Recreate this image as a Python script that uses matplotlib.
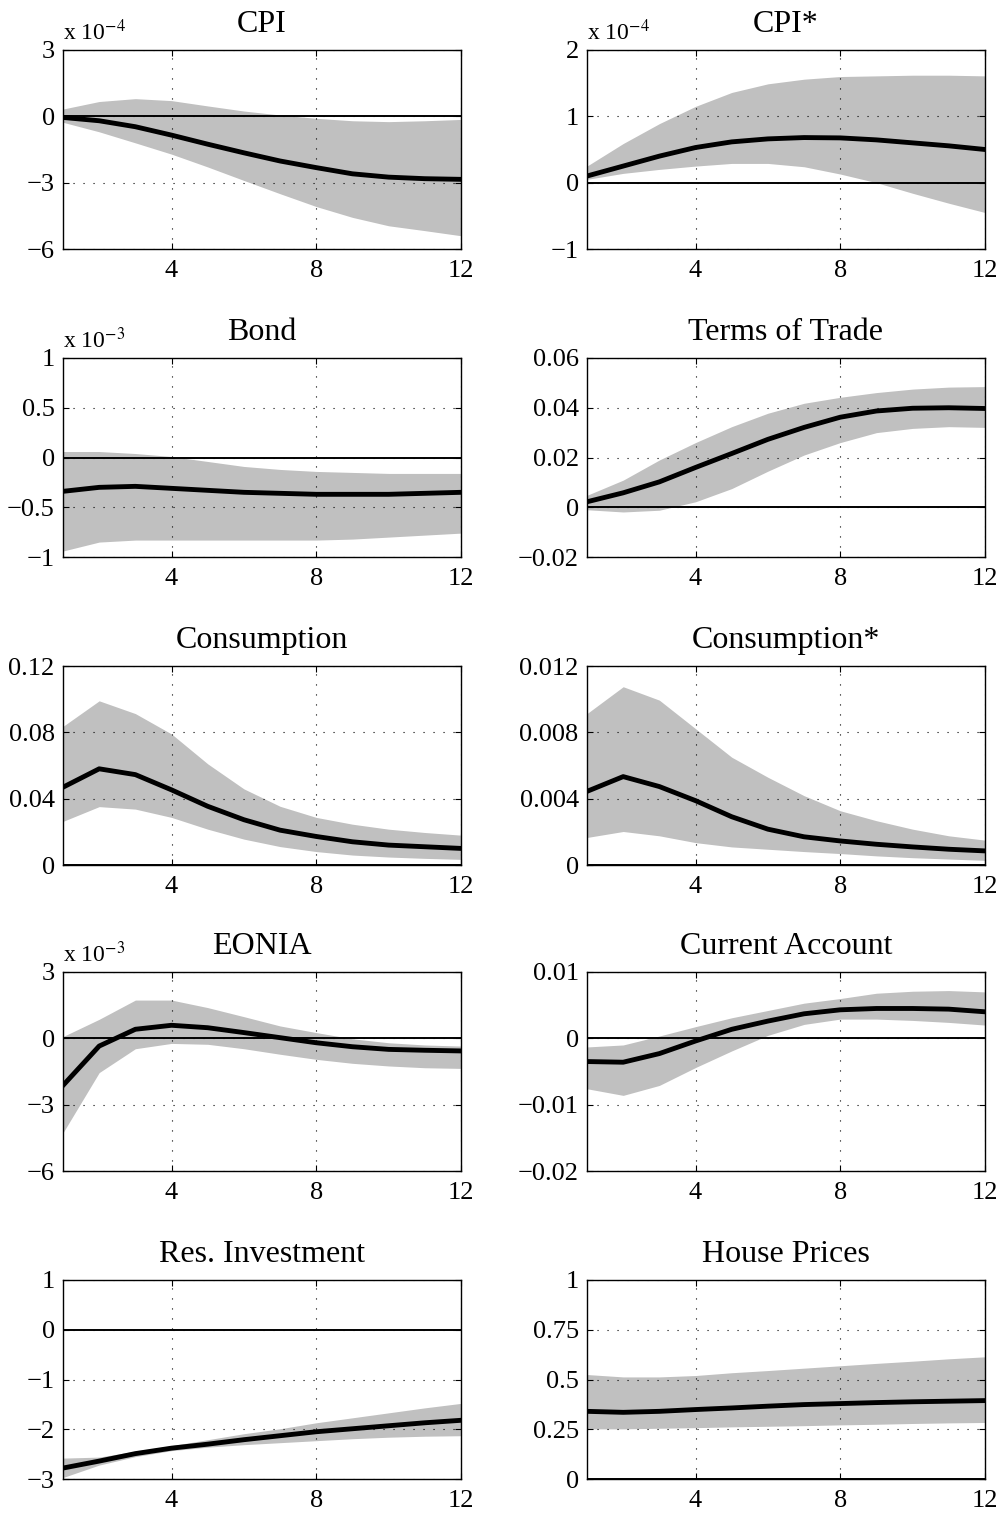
import matplotlib
matplotlib.use('Agg')
import matplotlib.pyplot as plt
from matplotlib.ticker import FuncFormatter

plt.rcParams['font.family'] = ['Liberation Serif', 'DejaVu Serif']
plt.rcParams['mathtext.fontset'] = 'stix'

quarters = list(range(1, 13))

# CPI (x 1e-4)
cpi_med = [-0.05, -0.2, -0.47, -0.85, -1.26, -1.65, -2.02, -2.32, -2.6, -2.75, -2.82, -2.85]
cpi_hi = [0.33, 0.67, 0.8, 0.71, 0.47, 0.24, 0.06, -0.09, -0.2, -0.24, -0.2, -0.14]
cpi_lo = [-0.27, -0.7, -1.2, -1.71, -2.29, -2.9, -3.5, -4.08, -4.57, -4.95, -5.17, -5.4]

# CPI* (x 1e-4)
cpis_med = [0.1, 0.25, 0.4, 0.53, 0.615, 0.66, 0.68, 0.675, 0.645, 0.6, 0.555, 0.5]
cpis_hi = [0.25, 0.59, 0.89, 1.15, 1.36, 1.49, 1.56, 1.6, 1.61, 1.62, 1.62, 1.61]
cpis_lo = [0.05, 0.14, 0.2, 0.25, 0.29, 0.29, 0.24, 0.13, 0.0, -0.16, -0.31, -0.45]

# Bond (x 1e-3)
bond_med = [-0.34, -0.3, -0.29, -0.31, -0.33, -0.35, -0.36, -0.37, -0.37, -0.37, -0.36, -0.35]
bond_hi = [0.06, 0.06, 0.04, 0.01, -0.04, -0.09, -0.12, -0.14, -0.15, -0.16, -0.16, -0.16]
bond_lo = [-0.94, -0.85, -0.83, -0.83, -0.83, -0.83, -0.83, -0.83, -0.82, -0.8, -0.78, -0.76]

# Terms of Trade
tot_med = [0.0022, 0.0058, 0.0102, 0.016, 0.0216, 0.0273, 0.0321, 0.0362, 0.0387, 0.0398, 0.04, 0.0397]
tot_hi = [0.0048, 0.0109, 0.019, 0.026, 0.0324, 0.0378, 0.0418, 0.0442, 0.0461, 0.0475, 0.0483, 0.0485]
tot_lo = [-0.001, -0.0019, -0.0012, 0.0022, 0.0075, 0.0145, 0.021, 0.026, 0.03, 0.0317, 0.0324, 0.0321]

# Consumption
cons_med = [0.0469, 0.058, 0.0545, 0.0453, 0.0354, 0.0273, 0.021, 0.0172, 0.014, 0.012, 0.011, 0.010]
cons_hi = [0.0836, 0.099, 0.0913, 0.079, 0.061, 0.0459, 0.0354, 0.0287, 0.0246, 0.0216, 0.0196, 0.018]
cons_lo = [0.0263, 0.0352, 0.0337, 0.0287, 0.0216, 0.0156, 0.0111, 0.0081, 0.006, 0.0048, 0.004, 0.0034]

# Consumption*
conss_med = [0.00444, 0.00533, 0.00473, 0.00388, 0.00291, 0.00216, 0.0017, 0.00145, 0.00125, 0.00109, 0.00095, 0.00085]
conss_hi = [0.00913, 0.01075, 0.00994, 0.00822, 0.0065, 0.00529, 0.00418, 0.00327, 0.00267, 0.00216, 0.00176, 0.0015]
conss_lo = [0.00166, 0.00202, 0.00176, 0.00135, 0.00109, 0.00095, 0.00081, 0.00069, 0.00055, 0.00044, 0.00036, 0.00028]

# EONIA (x 1e-3)
eonia_med = [-2.13, -0.35, 0.41, 0.59, 0.48, 0.26, 0.03, -0.2, -0.38, -0.5, -0.54, -0.57]
eonia_hi = [0.08, 0.86, 1.73, 1.73, 1.39, 0.98, 0.56, 0.26, -0.02, -0.2, -0.3, -0.35]
eonia_lo = [-4.27, -1.55, -0.47, -0.23, -0.27, -0.47, -0.72, -0.95, -1.13, -1.25, -1.33, -1.36]

# Current Account
ca_med = [-0.0035, -0.0036, -0.0023, -0.0004, 0.00136, 0.0026, 0.0037, 0.0043, 0.0045, 0.0045, 0.0044, 0.004]
ca_hi = [-0.0013, -0.001, 0.00035, 0.00176, 0.0031, 0.0042, 0.0053, 0.006, 0.0068, 0.0071, 0.0072, 0.007]
ca_lo = [-0.0076, -0.0086, -0.0071, -0.0044, -0.0019, 0.00045, 0.0021, 0.0029, 0.0029, 0.0027, 0.0024, 0.002]

# Res. Investment
resinv_med = [-2.78, -2.64, -2.49, -2.38, -2.3, -2.21, -2.13, -2.05, -1.99, -1.93, -1.87, -1.82]
resinv_hi = [-2.58, -2.56, -2.44, -2.33, -2.21, -2.09, -1.99, -1.87, -1.77, -1.67, -1.57, -1.48]
resinv_lo = [-2.97, -2.72, -2.55, -2.43, -2.36, -2.31, -2.27, -2.23, -2.19, -2.16, -2.14, -2.13]

# House Prices
hp_med = [0.34, 0.335, 0.34, 0.349, 0.357, 0.366, 0.374, 0.379, 0.384, 0.388, 0.391, 0.394]
hp_hi = [0.525, 0.513, 0.513, 0.52, 0.534, 0.545, 0.557, 0.569, 0.581, 0.592, 0.604, 0.614]
hp_lo = [0.252, 0.252, 0.255, 0.258, 0.262, 0.265, 0.268, 0.272, 0.275, 0.279, 0.282, 0.284]

panels = [
    ('CPI', cpi_med, cpi_lo, cpi_hi, [-6, -3, 0, 3], '-4'),
    ('CPI*', cpis_med, cpis_lo, cpis_hi, [-1, 0, 1, 2], '-4'),
    ('Bond', bond_med, bond_lo, bond_hi, [-1, -0.5, 0, 0.5, 1], '-3'),
    ('Terms of Trade', tot_med, tot_lo, tot_hi, [-0.02, 0, 0.02, 0.04, 0.06], None),
    ('Consumption', cons_med, cons_lo, cons_hi, [0, 0.04, 0.08, 0.12], None),
    ('Consumption*', conss_med, conss_lo, conss_hi, [0, 0.004, 0.008, 0.012], None),
    ('EONIA', eonia_med, eonia_lo, eonia_hi, [-6, -3, 0, 3], '-3'),
    ('Current Account', ca_med, ca_lo, ca_hi, [-0.02, -0.01, 0, 0.01], None),
    ('Res. Investment', resinv_med, resinv_lo, resinv_hi, [-3, -2, -1, 0, 1], None),
    ('House Prices', hp_med, hp_lo, hp_hi, [0, 0.25, 0.5, 0.75, 1], None),
]

W, H = 1004, 1514
fig = plt.figure(figsize=(W / 100, H / 100), dpi=100)

col_left = [63, 587]
ax_w = 398
row_top = [50, 358, 666, 972, 1280]
ax_h = 199

# matlab-style labels: %g with a real minus sign
fmt = FuncFormatter(lambda v, p: ('%g' % v).replace('-', '\u2212'))

for i, (title, med, lo, hi, yt, expo) in enumerate(panels):
    r, c = divmod(i, 2)
    ax = fig.add_axes([col_left[c] / W, 1 - (row_top[r] + ax_h) / H, ax_w / W, ax_h / H])
    ax.fill_between(quarters, lo, hi, color='#c0c0c0', linewidth=0, zorder=1)
    ax.axhline(0, color='black', linewidth=1.4, zorder=2)
    ax.plot(quarters, med, color='black', linewidth=3.5, zorder=3)
    ax.set_xlim(1, 12)
    ax.set_xticks([4, 8, 12])
    ax.set_ylim(yt[0], yt[-1])
    ax.set_yticks(yt)
    ax.yaxis.set_major_formatter(fmt)
    ax.grid(True, linestyle=(0, (1, 8)), color='black', linewidth=0.8)
    ax.tick_params(direction='in', top=True, right=True, length=4, labelsize=19)
    ax.tick_params(axis='x', pad=8)
    ax.tick_params(axis='y', pad=6)
    for s in ax.spines.values():
        s.set_linewidth(1.0)
    ax.set_title(title, fontsize=23, pad=13)
    if expo is not None:
        ax.text(0, 1.05, 'x 10$^{%s}$' % expo.replace('-', '\u2212'), transform=ax.transAxes,
                ha='left', va='baseline', fontsize=17)

plt.savefig('out.png', dpi=100)
